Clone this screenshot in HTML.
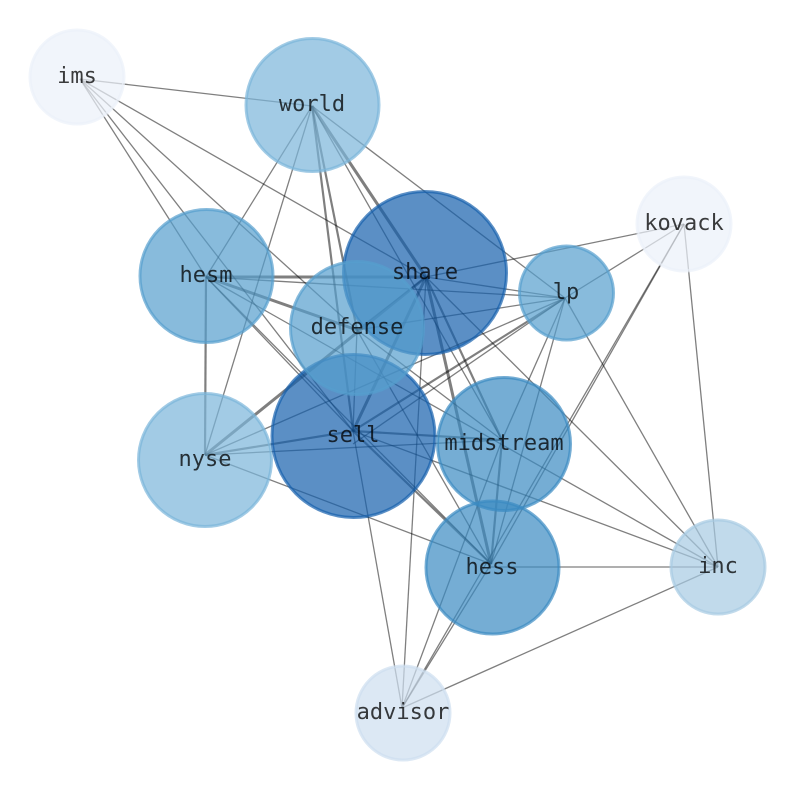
<!DOCTYPE html>
<html><head><meta charset="utf-8"><style>
html,body{margin:0;padding:0;background:#fff}
svg{display:block}
text{font-family:"DejaVu Sans Mono","Liberation Mono",monospace;font-size:22px;fill:#000;fill-opacity:.76;text-anchor:middle}
.e line{stroke:#000;stroke-opacity:.5;stroke-width:1.3}
.t line{stroke:#000;stroke-opacity:.5;stroke-width:3}
.m line{stroke:#000;stroke-opacity:.5;stroke-width:2.2}
circle{stroke-width:3;fill-opacity:.7;stroke-opacity:.7}
</style></head><body>
<svg width="794" height="790" viewBox="0 0 794 790" xmlns="http://www.w3.org/2000/svg">
<rect width="794" height="790" fill="#fff"/>
<g class="e">
<line x1="80" y1="79" x2="312" y2="106"/>
<line x1="80" y1="79" x2="426" y2="277"/>
<line x1="80" y1="79" x2="206" y2="277"/>
<line x1="80" y1="79" x2="353" y2="431"/>
<line x1="80" y1="79" x2="357" y2="330"/>
<line x1="312" y1="106" x2="206" y2="277"/>
<line x1="312" y1="106" x2="205" y2="455"/>
<line x1="312" y1="106" x2="502" y2="440"/>
<line x1="312" y1="106" x2="565" y2="298"/>
<line x1="206" y1="277" x2="565" y2="298"/>
<line x1="206" y1="277" x2="718" y2="567"/>
<line x1="206" y1="277" x2="353" y2="431"/>
<line x1="206" y1="277" x2="491" y2="564"/>
<line x1="426" y1="277" x2="684" y2="224"/>
<line x1="426" y1="277" x2="565" y2="298"/>
<line x1="426" y1="277" x2="718" y2="567"/>
<line x1="426" y1="277" x2="402" y2="708"/>
<line x1="426" y1="277" x2="357" y2="330"/>
<line x1="357" y1="330" x2="565" y2="298"/>
<line x1="357" y1="330" x2="353" y2="431"/>
<line x1="357" y1="330" x2="491" y2="564"/>
<line x1="357" y1="330" x2="502" y2="440"/>
<line x1="353" y1="431" x2="402" y2="708"/>
<line x1="353" y1="431" x2="718" y2="567"/>
<line x1="205" y1="455" x2="491" y2="564"/>
<line x1="205" y1="455" x2="565" y2="298"/>
<line x1="205" y1="455" x2="502" y2="440"/>
<line x1="565" y1="298" x2="353" y2="444"/>
<line x1="565" y1="298" x2="684" y2="224"/>
<line x1="565" y1="298" x2="502" y2="440"/>
<line x1="565" y1="298" x2="491" y2="564"/>
<line x1="565" y1="298" x2="718" y2="567"/>
<line x1="684" y1="224" x2="491" y2="564"/>
<line x1="684" y1="224" x2="402" y2="708"/>
<line x1="684" y1="224" x2="718" y2="567"/>
<line x1="502" y1="440" x2="402" y2="708"/>
<line x1="491" y1="567" x2="718" y2="567"/>
<line x1="491" y1="564" x2="402" y2="708"/>
<line x1="718" y1="567" x2="402" y2="708"/>
</g>
<g class="m">
<line x1="312" y1="106" x2="357" y2="330"/>
<line x1="312" y1="106" x2="353" y2="431"/>
<line x1="206" y1="277" x2="205" y2="455"/>
<line x1="426" y1="277" x2="502" y2="440"/>
<line x1="353" y1="431" x2="565" y2="298"/>
<line x1="353" y1="431" x2="502" y2="440"/>
<line x1="205" y1="455" x2="353" y2="431"/>
<line x1="353" y1="431" x2="491" y2="564"/>
<line x1="502" y1="440" x2="491" y2="564"/>
</g>
<g class="t">
<line x1="312" y1="106" x2="426" y2="277"/>
<line x1="206" y1="277" x2="426" y2="277"/>
<line x1="206" y1="277" x2="357" y2="330"/>
<line x1="426" y1="277" x2="353" y2="431"/>
<line x1="426" y1="277" x2="205" y2="455"/>
<line x1="426" y1="277" x2="491" y2="564"/>
</g>
<circle cx="77" cy="77" r="47" fill="#ebf1f9" stroke="#ebf1f9"/>
<circle cx="684" cy="224" r="47" fill="#ebf1f9" stroke="#ebf1f9"/>
<circle cx="403" cy="713" r="47" fill="#cddeef" stroke="#cddeef"/>
<circle cx="718" cy="567" r="47" fill="#a6cbe3" stroke="#a6cbe3"/>
<circle cx="312.500" cy="105" r="66.500" fill="#7ab5da" stroke="#7ab5da"/>
<circle cx="205" cy="460" r="66.500" fill="#7ab5da" stroke="#7ab5da"/>
<circle cx="566.500" cy="293" r="47" fill="#559ecd" stroke="#559ecd"/>
<circle cx="206.500" cy="276" r="66.500" fill="#559ecd" stroke="#559ecd"/>
<circle cx="425" cy="273" r="81.500" fill="#1560ac" stroke="#1560ac"/>
<circle cx="353.500" cy="436" r="81.500" fill="#1560ac" stroke="#1560ac"/>
<circle cx="357" cy="328" r="66.500" fill="#559ecd" stroke="#559ecd"/>
<circle cx="504" cy="444" r="66.500" fill="#3a8ac2" stroke="#3a8ac2"/>
<circle cx="492.500" cy="567.500" r="66.500" fill="#3a8ac2" stroke="#3a8ac2"/>
<text x="77" y="83">ims</text>
<text x="312" y="111">world</text>
<text x="684" y="230">kovack</text>
<text x="425" y="279">share</text>
<text x="566" y="299">lp</text>
<text x="206" y="282">hesm</text>
<text x="357" y="334">defense</text>
<text x="353" y="442">sell</text>
<text x="504" y="450">midstream</text>
<text x="205" y="466">nyse</text>
<text x="492" y="574">hess</text>
<text x="718" y="573">inc</text>
<text x="403" y="719">advisor</text>
</svg>
</body></html>
